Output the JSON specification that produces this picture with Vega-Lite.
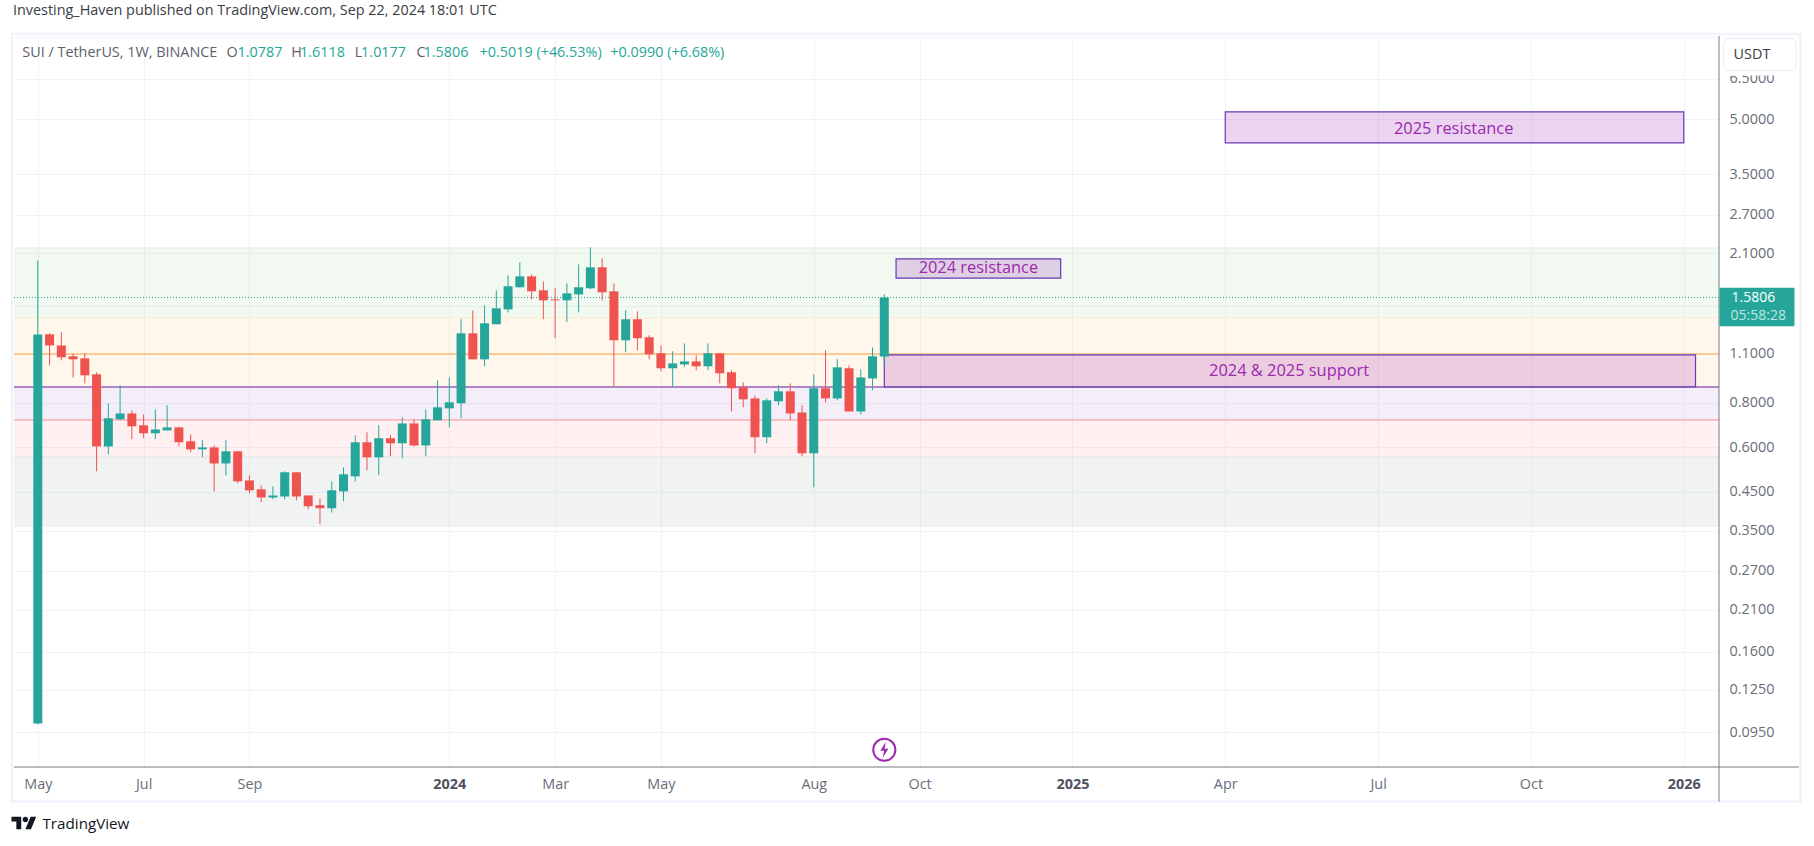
{
"$schema":"https://vega.github.io/schema/vega-lite/v6.json",
"autosize":"none","width":1705,"height":731,
"padding":{"left":14,"top":36,"right":95,"bottom":79},
"background":"#ffffff",
"config":{"view":{"stroke":null},"font":"Open Sans"},
"title":{"text":"Investing_Haven published on TradingView.com, Sep 22, 2024 18:01 UTC","anchor":"start","frame":"group","fontSize":14.4,"fontWeight":"normal","color":"#3a3d46","font":"Open Sans","offset":11,"dx":-1},
"datasets":{
"candles":[
{"date":"2023-05-01","open":0.1006,"high":2.0071,"low":0.1,"close":1.2441,"dir":"up"},
{"date":"2023-05-08","open":1.2456,"high":1.2535,"low":1.0189,"close":1.1591,"dir":"down"},
{"date":"2023-05-15","open":1.159,"high":1.2613,"low":1.0524,"close":1.0737,"dir":"down"},
{"date":"2023-05-22","open":1.0805,"high":1.1018,"low":0.9426,"close":1.0595,"dir":"down"},
{"date":"2023-05-29","open":1.0664,"high":1.1018,"low":0.9073,"close":0.9553,"dir":"down"},
{"date":"2023-06-05","open":0.9617,"high":0.9744,"low":0.5138,"close":0.6033,"dir":"down"},
{"date":"2023-06-12","open":0.6033,"high":0.7975,"low":0.5735,"close":0.7238,"dir":"up"},
{"date":"2023-06-19","open":0.7192,"high":0.8959,"low":0.7146,"close":0.7467,"dir":"up"},
{"date":"2023-06-26","open":0.7467,"high":0.7616,"low":0.6321,"close":0.6871,"dir":"down"},
{"date":"2023-07-03","open":0.6917,"high":0.7422,"low":0.6362,"close":0.6568,"dir":"down"},
{"date":"2023-07-10","open":0.6568,"high":0.7667,"low":0.6321,"close":0.6732,"dir":"up"},
{"date":"2023-07-17","open":0.6691,"high":0.7872,"low":0.6691,"close":0.6825,"dir":"up"},
{"date":"2023-07-24","open":0.6825,"high":0.6825,"low":0.6033,"close":0.6198,"dir":"down"},
{"date":"2023-07-31","open":0.6239,"high":0.6527,"low":0.5809,"close":0.5921,"dir":"down"},
{"date":"2023-08-07","open":0.5921,"high":0.628,"low":0.5625,"close":0.5995,"dir":"up"},
{"date":"2023-08-14","open":0.5995,"high":0.6072,"low":0.4513,"close":0.5405,"dir":"down"},
{"date":"2023-08-21","open":0.5405,"high":0.628,"low":0.5005,"close":0.5847,"dir":"up"},
{"date":"2023-08-28","open":0.5847,"high":0.5847,"low":0.4753,"close":0.4813,"dir":"down"},
{"date":"2023-09-04","open":0.4843,"high":0.5005,"low":0.4453,"close":0.4543,"dir":"down"},
{"date":"2023-09-11","open":0.4573,"high":0.4693,"low":0.4206,"close":0.4339,"dir":"down"},
{"date":"2023-09-18","open":0.4339,"high":0.4663,"low":0.4286,"close":0.4395,"dir":"up"},
{"date":"2023-09-25","open":0.4366,"high":0.5138,"low":0.4286,"close":0.5105,"dir":"up"},
{"date":"2023-10-02","open":0.5105,"high":0.5105,"low":0.4259,"close":0.4366,"dir":"down"},
{"date":"2023-10-09","open":0.4395,"high":0.4395,"low":0.4019,"close":0.4099,"dir":"down"},
{"date":"2023-10-16","open":0.4126,"high":0.4313,"low":0.3648,"close":0.4046,"dir":"down"},
{"date":"2023-10-23","open":0.4046,"high":0.4813,"low":0.3937,"close":0.4543,"dir":"up"},
{"date":"2023-10-30","open":0.4513,"high":0.5272,"low":0.4233,"close":0.5039,"dir":"up"},
{"date":"2023-11-06","open":0.4973,"high":0.6485,"low":0.4813,"close":0.6198,"dir":"up"},
{"date":"2023-11-13","open":0.6198,"high":0.6609,"low":0.5172,"close":0.5623,"dir":"down"},
{"date":"2023-11-20","open":0.5623,"high":0.6917,"low":0.5005,"close":0.6362,"dir":"up"},
{"date":"2023-11-27","open":0.6362,"high":0.6485,"low":0.5661,"close":0.6157,"dir":"down"},
{"date":"2023-12-04","open":0.6157,"high":0.7284,"low":0.5586,"close":0.7,"dir":"up"},
{"date":"2023-12-11","open":0.7,"high":0.7192,"low":0.6033,"close":0.6072,"dir":"down"},
{"date":"2023-12-18","open":0.6072,"high":0.7667,"low":0.5661,"close":0.7192,"dir":"up"},
{"date":"2023-12-25","open":0.7146,"high":0.9244,"low":0.7146,"close":0.777,"dir":"up"},
{"date":"2024-01-01","open":0.7718,"high":0.9426,"low":0.6825,"close":0.8026,"dir":"up"},
{"date":"2024-01-08","open":0.7975,"high":1.3727,"low":0.7238,"close":1.2535,"dir":"up"},
{"date":"2024-01-15","open":1.2535,"high":1.4539,"low":1.0595,"close":1.0595,"dir":"down"},
{"date":"2024-01-22","open":1.0595,"high":1.5026,"low":1.0126,"close":1.3377,"dir":"up"},
{"date":"2024-01-29","open":1.3289,"high":1.6554,"low":1.3289,"close":1.4733,"dir":"up"},
{"date":"2024-02-05","open":1.4637,"high":1.8237,"low":1.4344,"close":1.699,"dir":"up"},
{"date":"2024-02-12","open":1.6881,"high":1.9816,"low":1.6881,"close":1.8116,"dir":"up"},
{"date":"2024-02-19","open":1.8116,"high":1.8358,"low":1.5613,"close":1.6445,"dir":"down"},
{"date":"2024-02-26","open":1.6554,"high":1.7534,"low":1.3727,"close":1.5515,"dir":"down"},
{"date":"2024-03-04","open":1.5613,"high":1.6772,"low":1.2142,"close":1.5515,"dir":"down"},
{"date":"2024-03-11","open":1.5515,"high":1.7316,"low":1.3464,"close":1.6227,"dir":"up"},
{"date":"2024-03-18","open":1.6121,"high":1.9569,"low":1.4344,"close":1.6881,"dir":"up"},
{"date":"2024-03-25","open":1.6772,"high":2.184,"low":1.6663,"close":1.9205,"dir":"up"},
{"date":"2024-04-01","open":1.9205,"high":2.0355,"low":1.5515,"close":1.6336,"dir":"down"},
{"date":"2024-04-08","open":1.6445,"high":1.7316,"low":0.8883,"close":1.1984,"dir":"down"},
{"date":"2024-04-15","open":1.1984,"high":1.4539,"low":1.1089,"close":1.3727,"dir":"up"},
{"date":"2024-04-22","open":1.3727,"high":1.4441,"low":1.123,"close":1.2142,"dir":"down"},
{"date":"2024-04-29","open":1.222,"high":1.2377,"low":1.0595,"close":1.0949,"dir":"down"},
{"date":"2024-05-06","open":1.1018,"high":1.159,"low":0.9808,"close":1.0,"dir":"down"},
{"date":"2024-05-13","open":1.0,"high":1.1159,"low":0.8883,"close":1.0317,"dir":"up"},
{"date":"2024-05-20","open":1.0253,"high":1.1747,"low":1.0062,"close":1.0453,"dir":"up"},
{"date":"2024-05-27","open":1.0453,"high":1.0876,"low":0.9871,"close":1.0126,"dir":"down"},
{"date":"2024-06-03","open":1.0126,"high":1.1747,"low":0.9871,"close":1.1018,"dir":"up"},
{"date":"2024-06-10","open":1.1018,"high":1.1018,"low":0.9073,"close":0.9681,"dir":"down"},
{"date":"2024-06-17","open":0.9744,"high":0.9871,"low":0.7564,"close":0.8788,"dir":"down"},
{"date":"2024-06-24","open":0.8845,"high":0.913,"low":0.777,"close":0.818,"dir":"down"},
{"date":"2024-07-01","open":0.8231,"high":0.8389,"low":0.5772,"close":0.6403,"dir":"down"},
{"date":"2024-07-08","open":0.6403,"high":0.8231,"low":0.6157,"close":0.8129,"dir":"up"},
{"date":"2024-07-15","open":0.8077,"high":0.8959,"low":0.7872,"close":0.8617,"dir":"up"},
{"date":"2024-07-22","open":0.8617,"high":0.9073,"low":0.7146,"close":0.7467,"dir":"down"},
{"date":"2024-07-29","open":0.7515,"high":0.7872,"low":0.5661,"close":0.5772,"dir":"down"},
{"date":"2024-08-05","open":0.5772,"high":0.9617,"low":0.4633,"close":0.8788,"dir":"up"},
{"date":"2024-08-12","open":0.8788,"high":1.123,"low":0.8026,"close":0.8231,"dir":"down"},
{"date":"2024-08-19","open":0.8231,"high":1.0595,"low":0.8129,"close":1.0062,"dir":"up"},
{"date":"2024-08-26","open":1.0,"high":1.0189,"low":0.7564,"close":0.7564,"dir":"down"},
{"date":"2024-09-02","open":0.7564,"high":0.9935,"low":0.7422,"close":0.9426,"dir":"up"},
{"date":"2024-09-09","open":0.9364,"high":1.1443,"low":0.8674,"close":1.0805,"dir":"up"},
{"date":"2024-09-16","open":1.0787,"high":1.6118,"low":1.0177,"close":1.5806,"dir":"up"}
],
"zones":[
{"zone":"green","top":2.176,"bottom":1.384},
{"zone":"orange","top":1.384,"bottom":0.886},
{"zone":"purple","top":0.886,"bottom":0.716},
{"zone":"red","top":0.716,"bottom":0.5636},
{"zone":"gray","top":0.5636,"bottom":0.3583}
],
"levels":[
{"level":"green top","price":2.176},
{"level":"orange top","price":1.384},
{"level":"orange mid","price":1.0967},
{"level":"purple top","price":0.886},
{"level":"red top","price":0.716},
{"level":"gray top","price":0.5636}
],
"boxes":[
{"name":"2025 resistance","start":"2025-04-07","end":"2026-01-05","top":5.248,"bottom":4.295,"mid":"2025-08-21","midPrice":4.711},
{"name":"2024 resistance","start":"2024-09-23","end":"2024-12-30","top":2.029,"bottom":1.79,"mid":"2024-11-11","midPrice":1.906},
{"name":"2024 & 2025 support","start":"2024-09-16","end":"2026-01-12","top":1.091,"bottom":0.886,"mid":"2025-05-15","midPrice":0.9827}
],
"legendText":[
{"t":"SUI / TetherUS, 1W, BINANCE","date":"2023-04-21T18:30:00Z","price":7.675,"role":"name"},
{"t":"O","date":"2023-08-21T07:00:00Z","price":7.675,"role":"name"},
{"t":"1.0787","date":"2023-08-27T22:00:00Z","price":7.675,"role":"value"},
{"t":"H","date":"2023-09-28T22:00:00Z","price":7.675,"role":"name"},
{"t":"1.6118","date":"2023-10-04T02:00:00Z","price":7.675,"role":"value"},
{"t":"L","date":"2023-11-05T18:00:00Z","price":7.675,"role":"name"},
{"t":"1.0177","date":"2023-11-09T12:00:00Z","price":7.675,"role":"value"},
{"t":"C","date":"2023-12-12T10:00:00Z","price":7.675,"role":"name"},
{"t":"1.5806","date":"2023-12-16T15:00:00Z","price":7.675,"role":"value"},
{"t":"+0.5019 (+46.53%)","date":"2024-01-19T00:00:00Z","price":7.675,"role":"value"},
{"t":"+0.0990 (+6.68%)","date":"2024-04-05T21:00:00Z","price":7.675,"role":"value"}
],
"frame":[{"a":"2023-04-15T15:00:00Z","b":"2026-03-15T12:00:00Z","top":8.679,"bottom":0.06075}],
"axisLines":[{"date":"2026-01-25T23:15:00Z","right":"2026-03-14T12:00:00Z","left":"2023-04-16T19:55:00Z","top":8.567,"base":0.07596,"bottom":0.06075}],
"lastPrice":[{"price":1.5806,"a":"2026-01-26T06:30:00Z","b":"2026-03-11T21:36:00Z","top":1.6824,"bottom":1.3124}],
"priceText":[
{"t":"1.5806","date":"2026-02-02T10:00:00Z","price":1.573,"role":"price"},
{"t":"05:58:28","date":"2026-02-01T20:00:00Z","price":1.4,"role":"timer"}
],
"button":[{"a":"2026-01-28T14:00:00Z","b":"2026-03-12T21:00:00Z","top":8.43,"bottom":6.855,"maskBottom":6.636,"mid":"2026-02-14T14:00:00Z","midPrice":7.6,"t":"USDT"}],
"brand":[{"date":"2023-04-22T18:45:00Z","price":0.0529,"textDate":"2023-05-03T19:00:00Z","textPrice":0.0524,"t":"TradingView"}],
"bolt":[{"date":"2024-09-16","price":0.0849}]
},
"layer":[
{"data":{"name":"frame"},"mark":{"type":"rect","filled":false,"stroke":"#f0f3fa","strokeWidth":2.5},
"encoding":{
"x":{"field":"a","type":"temporal","scale":{"type":"utc","padding":0,"domain":["2023-04-16T19:55:00Z","2026-01-25T23:15:00Z"]},
"axis":{"title":null,"orient":"bottom","values":["2023-05-01","2023-07-03","2023-09-04","2024-01-01","2024-03-04","2024-05-06","2024-08-05","2024-10-07","2025-01-06","2025-04-07","2025-07-07","2025-10-06","2026-01-05"],
"labelExpr":"utcmonth(datum.value)==0 ? utcFormat(datum.value,'%Y') : utcFormat(datum.value,'%b')",
"labelFontWeight":{"condition":{"test":"utcmonth(datum.value)==0","value":"bold"},"value":"normal"},
"labelColor":{"condition":{"test":"utcmonth(datum.value)==0","value":"#4c525e"},"value":"#6a6d78"},
"labelFontSize":14.4,"labelFont":"Open Sans","labelPadding":10,"labelOverlap":false,"labelBound":false,"labelFlush":false,
"domain":false,"ticks":false,"grid":true,"gridColor":"#f0f3fa","gridWidth":1}},
"x2":{"field":"b"},
"y":{"field":"top","type":"quantitative","scale":{"type":"log","domain":[0.07596,8.567],"nice":false,"zero":false},
"axis":{"title":null,"orient":"right","values":[8.5,6.5,5,3.5,2.7,2.1,1.5,1.1,0.8,0.6,0.45,0.35,0.27,0.21,0.16,0.125,0.095],
"labelExpr":"datum.value>8 || datum.value==1.5 ? '' : format(datum.value,'.4f')",
"labelFontSize":14.4,"labelFont":"Open Sans","labelColor":"#6a6d78","labelPadding":10,"labelOverlap":false,"labelBound":false,"labelFlush":false,"labelAlign":"left",
"domain":false,"ticks":false,"grid":true,"gridColor":"#f0f3fa","gridWidth":1}},
"y2":{"field":"bottom"}}},
{"data":{"name":"zones"},"mark":{"type":"rect","opacity":0.08},
"encoding":{"y":{"field":"top","type":"quantitative"},"y2":{"field":"bottom"},
"color":{"field":"zone","type":"nominal","legend":null,"scale":{"domain":["green","orange","purple","red","gray"],"range":["#4caf50","#ff9800","#752ab4","#ff5252","#50695c"]}}}},
{"data":{"name":"levels"},"mark":{"type":"rule","strokeWidth":1},
"encoding":{"y":{"field":"price","type":"quantitative"},
"color":{"field":"level","type":"nominal","legend":null,"scale":{"domain":["green top","orange top","orange mid","purple top","red top","gray top"],"range":["#dcefdc","#fde9d2","#ff9f43","#6a1b9a","#f98d96","#e0e2e3"]}}}},
{"data":{"name":"lastPrice"},"mark":{"type":"rule","color":"#26a69a","strokeWidth":1,"strokeDash":[1,2]},
"encoding":{"y":{"field":"price","type":"quantitative"}}},
{"data":{"name":"boxes"},"mark":{"type":"rect","fill":"#9c27b0","fillOpacity":0.2,"stroke":"#673ab7","strokeWidth":1.2},
"encoding":{"x":{"field":"start","type":"temporal"},"x2":{"field":"end"},"y":{"field":"top","type":"quantitative"},"y2":{"field":"bottom"}}},
{"data":{"name":"boxes"},"mark":{"type":"text","color":"#9c27b0","fontSize":16.4,"font":"Open Sans","baseline":"middle","align":"center"},
"encoding":{"x":{"field":"mid","type":"temporal"},"y":{"field":"midPrice","type":"quantitative"},"text":{"field":"name"}}},
{"data":{"name":"candles"},"mark":{"type":"rule","strokeWidth":1},
"encoding":{"x":{"field":"date","type":"temporal"},"y":{"field":"low","type":"quantitative"},"y2":{"field":"high"},
"color":{"field":"dir","type":"nominal","legend":null,"scale":{"domain":["up","down"],"range":["#26a69a","#ef5350"]}}}},
{"data":{"name":"candles"},"mark":{"type":"bar","size":9,"orient":"vertical"},
"encoding":{"x":{"field":"date","type":"temporal"},"y":{"field":"open","type":"quantitative"},"y2":{"field":"close"},
"color":{"field":"dir","type":"nominal","legend":null,"scale":{"domain":["up","down"],"range":["#26a69a","#ef5350"]}}}},
{"data":{"name":"axisLines"},"mark":{"type":"rule","color":"#787b86","strokeWidth":1},
"encoding":{"x":{"field":"date","type":"temporal"},"y":{"field":"top","type":"quantitative"},"y2":{"field":"bottom"}}},
{"data":{"name":"axisLines"},"mark":{"type":"rule","color":"#787b86","strokeWidth":1},
"encoding":{"x":{"field":"left","type":"temporal"},"x2":{"field":"right"},"y":{"field":"base","type":"quantitative"}}},
{"data":{"name":"legendText"},"mark":{"type":"text","fontSize":14.4,"font":"Open Sans","align":"left","baseline":"middle"},
"encoding":{"x":{"field":"date","type":"temporal"},"y":{"field":"price","type":"quantitative"},"text":{"field":"t"},
"color":{"field":"role","type":"nominal","legend":null,"scale":{"domain":["name","value"],"range":["#5d606b","#26a69a"]}}}},
{"data":{"name":"lastPrice"},"mark":{"type":"rect","fill":"#26a69a"},
"encoding":{"x":{"field":"a","type":"temporal"},"x2":{"field":"b"},"y":{"field":"top","type":"quantitative"},"y2":{"field":"bottom"}}},
{"data":{"name":"priceText"},"mark":{"type":"text","fontSize":14,"font":"Open Sans","align":"left","baseline":"middle"},
"encoding":{"x":{"field":"date","type":"temporal"},"y":{"field":"price","type":"quantitative"},"text":{"field":"t"},
"color":{"field":"role","type":"nominal","legend":null,"scale":{"domain":["price","timer"],"range":["#ffffff","#bfe6e2"]}}}},
{"data":{"name":"button"},"mark":{"type":"rect","fill":"#ffffff"},
"encoding":{"x":{"field":"a","type":"temporal"},"x2":{"field":"b"},"y":{"field":"top","type":"quantitative"},"y2":{"field":"maskBottom"}}},
{"data":{"name":"button"},"mark":{"type":"rect","fill":"#ffffff","stroke":"#e9ebf2","strokeWidth":1,"cornerRadius":6},
"encoding":{"x":{"field":"a","type":"temporal"},"x2":{"field":"b"},"y":{"field":"top","type":"quantitative"},"y2":{"field":"bottom"}}},
{"data":{"name":"button"},"mark":{"type":"text","fontSize":14.4,"font":"Open Sans","color":"#3a3d46","align":"center","baseline":"middle"},
"encoding":{"x":{"field":"mid","type":"temporal"},"y":{"field":"midPrice","type":"quantitative"},"text":{"field":"t"}}},
{"data":{"name":"brand"},"mark":{"type":"point","filled":true,"fill":"#131722","stroke":null,"opacity":1,"size":625,"shape":"M-0.222 0.5H-0.611V-0.111H-1V-0.5H-0.222ZM0.556 0.5H0.111L0.528 -0.5H0.972ZM-0.111 -0.278A0.222 0.222 0 1 0 0.333 -0.278A0.222 0.222 0 1 0 -0.111 -0.278Z"},
"encoding":{"x":{"field":"date","type":"temporal"},"y":{"field":"price","type":"quantitative"}}},
{"data":{"name":"brand"},"mark":{"type":"text","fontSize":15.2,"font":"Open Sans","color":"#131722","align":"left","baseline":"middle"},
"encoding":{"x":{"field":"textDate","type":"temporal"},"y":{"field":"textPrice","type":"quantitative"},"text":{"field":"t"}}},
{"data":{"name":"bolt"},"mark":{"type":"point","shape":"circle","size":491,"filled":false,"stroke":"#9c27b0","strokeWidth":2,"opacity":1},
"encoding":{"x":{"field":"date","type":"temporal"},"y":{"field":"price","type":"quantitative"}}},
{"data":{"name":"bolt"},"mark":{"type":"point","filled":true,"fill":"#9c27b0","stroke":null,"opacity":1,"size":400,"shape":"M0.15 -0.8L-0.4 0.1L-0.02 0.1L-0.15 0.8L0.4 -0.1L0.02 -0.1Z"},
"encoding":{"x":{"field":"date","type":"temporal"},"y":{"field":"price","type":"quantitative"}}}
],
"resolve":{"scale":{"color":"independent"}}
}
